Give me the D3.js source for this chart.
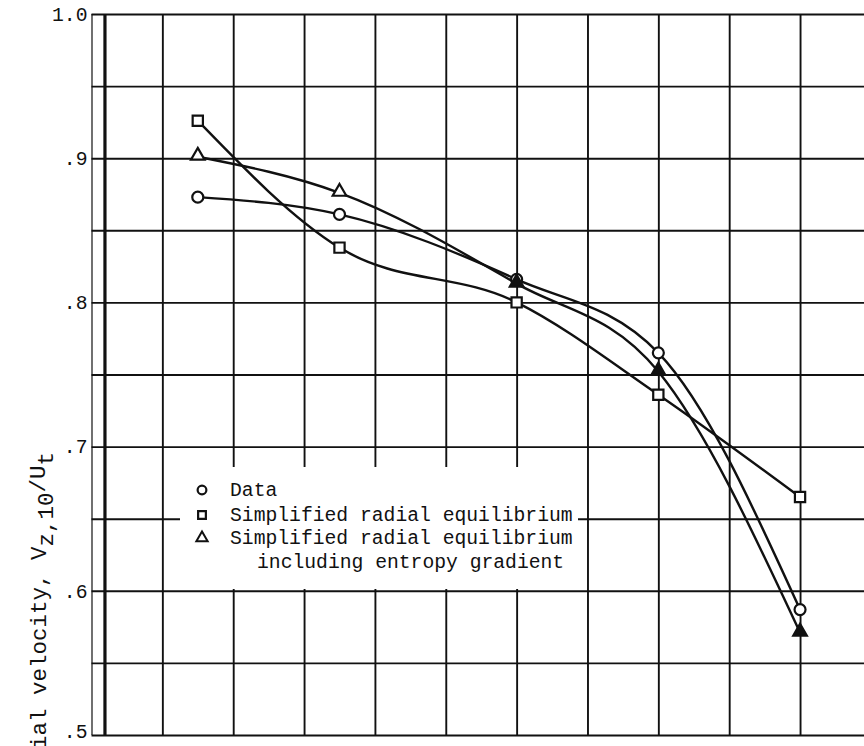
<!DOCTYPE html>
<html>
<head>
<meta charset="utf-8">
<script src="https://cdn.jsdelivr.net/npm/d3@7"></script>
<style>
  html, body { margin: 0; padding: 0; background: #fff; }
  svg { display: block; }
  text { font-family: "Liberation Mono", "DejaVu Sans Mono", monospace; fill: #111; }
</style>
</head>
<body>
<script>
// ---- data ----
const xPositions = [1.5, 3.5, 6, 8, 10];            // station positions (grid units)
const dataValues = [0.873, 0.861, 0.816, 0.765, 0.587];      // o Data
const simpleValues = [0.926, 0.838, 0.800, 0.736, 0.665];    // □ Simplified radial equilibrium
const entropyValues = [0.901, 0.876, 0.813, 0.752, 0.571];   // △ ... including entropy gradient
const yTickValues = [0.5, 0.6, 0.7, 0.8, 0.9, 1.0];
const yTickLabels = [".5", ".6", ".7", ".8", ".9", "1.0"];
const yGridValues = [0.5, 0.55, 0.6, 0.65, 0.7, 0.75, 0.8, 0.85, 0.9, 0.95, 1.0];
const xGridValues = [0, 1, 2, 3, 4, 5, 6, 7, 8, 9, 10, 11];
const legendLabels = ["Data", "Simplified radial equilibrium", "Simplified radial equilibrium", "including entropy gradient"];

const W = 864, H = 746;
const FS = 19.7;
const x = d3.scaleLinear().domain([0, 11]).range([91.5, 870.9]);
const y = d3.scaleLinear().domain([0.5, 1.0]).range([735, 14]);

const svg = d3.select("body").append("svg").attr("width", W).attr("height", H);
const ink = "#111";

// grid: horizontal
svg.append("g").attr("transform", `translate(${x(0)},0)`)
  .call(d3.axisLeft(y).tickValues(yGridValues).tickSize(-(W - x(0))).tickFormat(""))
  .call(g => g.select(".domain").remove())
  .call(g => g.selectAll("line").attr("stroke", ink).attr("stroke-width", 1.9));

// grid: vertical
svg.append("g").attr("transform", `translate(0,${y(0.5)})`)
  .call(d3.axisBottom(x).tickValues(xGridValues).tickSize(-(y(0.5) - y(1.0))).tickFormat(""))
  .call(g => g.select(".domain").remove())
  .call(g => g.selectAll("line").attr("stroke", ink).attr("stroke-width", d => d === 0 ? 1.2 : 1.9));

// thick axis line
svg.append("line")
  .attr("x1", x(0.19)).attr("x2", x(0.19))
  .attr("y1", y(1.0)).attr("y2", y(0.5))
  .attr("stroke", ink).attr("stroke-width", 3.2);

// y tick labels
svg.append("g").attr("transform", `translate(${x(0)},0)`)
  .call(d3.axisLeft(y).tickValues(yTickValues).tickSize(0).tickPadding(4)
        .tickFormat((d, i) => yTickLabels[i]))
  .call(g => g.select(".domain").remove())
  .call(g => g.selectAll("text").attr("font-size", FS).attr("fill", ink)
        .attr("font-family", "Liberation Mono, monospace")
        .attr("dy", d => d === 0.5 ? "0.15em" : "0.32em"));

// y axis title
const TFS = 22.5;
const title = svg.append("text")
  .attr("transform", `translate(46,452) rotate(-90)`)
  .attr("text-anchor", "end")
  .attr("font-size", TFS);
title.append("tspan").text("Axial velocity, V");
title.append("tspan").attr("dy", 7).text("z,10");
title.append("tspan").attr("dy", -8).text("/U");
title.append("tspan").attr("dy", 8).text("t");

// legend background (white box covering grid)
svg.append("rect")
  .attr("x", 180).attr("y", 467).attr("width", 398).attr("height", 122)
  .attr("fill", "#fff");

// curves
const line = d3.line()
  .x((d, i) => x(xPositions[i]))
  .y(d => y(d))
  .curve(d3.curveMonotoneX);

[dataValues, simpleValues, entropyValues].forEach(vals => {
  svg.append("path").attr("d", line(vals))
    .attr("fill", "none").attr("stroke", ink).attr("stroke-width", 2.4);
});

// markers
const circleSym = d3.symbol().type(d3.symbolCircle).size(95);
const squareSym = d3.symbol().type(d3.symbolSquare).size(105);
const triSym = d3.symbol().type(d3.symbolTriangle).size(80);

svg.append("g").selectAll("path").data(dataValues).join("path")
  .attr("d", circleSym)
  .attr("transform", (d, i) => `translate(${x(xPositions[i])},${y(d)})`)
  .attr("fill", "#fff").attr("stroke", ink).attr("stroke-width", 2.2);

svg.append("g").selectAll("path").data(simpleValues).join("path")
  .attr("d", squareSym)
  .attr("transform", (d, i) => `translate(${x(xPositions[i])},${y(d)})`)
  .attr("fill", "#fff").attr("stroke", ink).attr("stroke-width", 2.2);

svg.append("g").selectAll("path").data(entropyValues).join("path")
  .attr("d", triSym)
  .attr("transform", (d, i) => `translate(${x(xPositions[i])},${y(d) - 1})`)
  .attr("fill", (d, i) => i >= 2 ? ink : "#fff").attr("stroke", ink).attr("stroke-width", 2.2);

// legend
const lx = 202, lyRows = [490, 515, 538, 562];
svg.append("path").attr("d", d3.symbol().type(d3.symbolCircle).size(60)())
  .attr("transform", `translate(${lx},${lyRows[0]})`)
  .attr("fill", "#fff").attr("stroke", ink).attr("stroke-width", 2.2);
svg.append("path").attr("d", d3.symbol().type(d3.symbolSquare).size(60)())
  .attr("transform", `translate(${lx},${lyRows[1]})`)
  .attr("fill", "#fff").attr("stroke", ink).attr("stroke-width", 2.2);
svg.append("path").attr("d", d3.symbol().type(d3.symbolTriangle).size(55)())
  .attr("transform", `translate(${lx},${lyRows[2]})`)
  .attr("fill", "#fff").attr("stroke", ink).attr("stroke-width", 2);

legendLabels.forEach((t, i) => {
  svg.append("text")
    .attr("x", i === 3 ? 257 : 230)
    .attr("y", lyRows[i] + 6)
    .attr("font-size", FS)
    .text(t);
});
</script>
</body>
</html>
